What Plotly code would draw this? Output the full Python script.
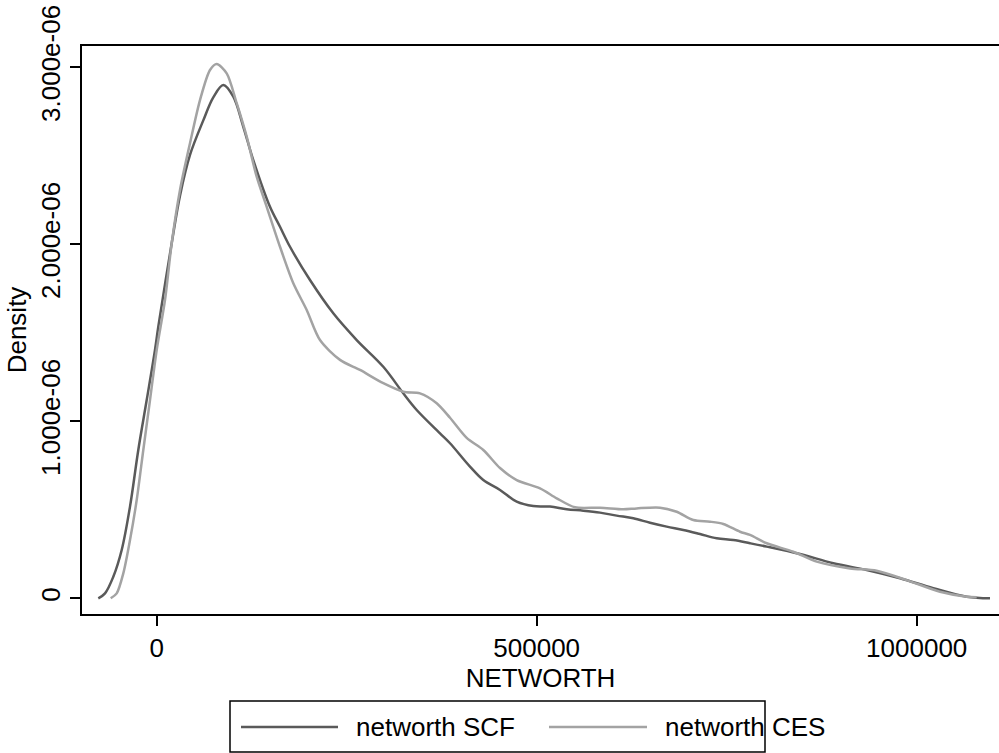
import plotly.graph_objects as go

# ---- data (density in units of 1e-6) ----
scf_x = [-76840, -68030, -57100, -46050, -35130, -24210, -13160, -2240, 2100, 19740,
         30660, 43820, 61320, 74470, 87630, 100790, 113950, 127110, 149080, 162240,
         175390, 201710, 232370, 263160, 298160, 324470, 342110, 372770, 385920, 412240,
         429740, 451720, 473680, 495530, 517500, 539470, 561320, 583290, 605270, 627110,
         649080, 671050, 692900, 714870, 736850, 758690, 780660, 802630, 846460, 890270,
         934220, 978040, 1021850, 1065790, 1096450]
scf_y = [0.000, 0.028, 0.122, 0.273, 0.518, 0.838, 1.120, 1.403, 1.534, 2.006,
         2.275, 2.505, 2.700, 2.830, 2.900, 2.834, 2.664, 2.476, 2.212, 2.099,
         1.986, 1.798, 1.610, 1.459, 1.308, 1.158, 1.064, 0.932, 0.876, 0.744,
         0.668, 0.612, 0.546, 0.521, 0.518, 0.503, 0.495, 0.484, 0.467, 0.452,
         0.427, 0.405, 0.386, 0.363, 0.339, 0.329, 0.311, 0.292, 0.250, 0.198,
         0.160, 0.113, 0.057, 0.009, 0.000]

ces_x = [-60530, -52630, -43950, -35130, -26320, -17630, -8820, 0, 10920, 19740,
         30660, 43820, 56970, 70130, 78950, 92110, 105260, 118420, 131580, 144740,
         162240, 179740, 197370, 214870, 241180, 267500, 298160, 324470, 346450, 368420,
         385920, 407900, 429740, 451720, 473680, 504340, 526320, 550400, 583290, 613950,
         631580, 662240, 684210, 706050, 728030, 745530, 767500, 780660, 802630, 837630,
         868420, 912240, 947370, 986840, 1030660, 1065790, 1078950]
ces_y = [0.000, 0.028, 0.141, 0.329, 0.555, 0.838, 1.120, 1.403, 1.685, 2.006,
         2.307, 2.571, 2.815, 2.985, 3.019, 2.966, 2.797, 2.608, 2.382, 2.212,
         1.986, 1.780, 1.629, 1.459, 1.347, 1.290, 1.215, 1.167, 1.158, 1.102,
         1.020, 0.906, 0.838, 0.736, 0.668, 0.621, 0.565, 0.514, 0.512, 0.503,
         0.508, 0.512, 0.489, 0.442, 0.433, 0.420, 0.376, 0.358, 0.311, 0.263,
         0.207, 0.169, 0.156, 0.103, 0.037, 0.009, 0.006]

x_ticks = [0, 500000, 1000000]
x_tick_labels = ["0", "500000", "1000000"]
y_ticks = [0, 1e-6, 2e-6, 3e-6]
y_tick_labels = ["0", "1.000e-06", "2.000e-06", "3.000e-06"]
series_names = ["networth SCF", "networth CES"]

DARK = "#5a5a5a"
LIGHT = "#a3a3a3"
FONT = "Liberation Sans, Arial, sans-serif"
FS = 26

fig = go.Figure()
fig.add_trace(go.Scatter(x=scf_x, y=[v * 1e-6 for v in scf_y], mode="lines",
                         line=dict(color=DARK, width=2.5, shape="spline", smoothing=1.0),
                         name=series_names[0], showlegend=False))
fig.add_trace(go.Scatter(x=ces_x, y=[v * 1e-6 for v in ces_y], mode="lines",
                         line=dict(color=LIGHT, width=2.5, shape="spline", smoothing=0.8),
                         name=series_names[1], showlegend=False))

W, H = 999, 753
L, R, T, B = 82, 0, 46, 139
pw, ph = W - L - R, H - T - B

def px(x):
    return (x - L) / pw

def py(y):
    return (H - B - y) / ph

fig.update_layout(
    width=W, height=H,
    margin=dict(l=L, r=R, t=T, b=B),
    paper_bgcolor="white", plot_bgcolor="white",
    font=dict(family=FONT, size=FS, color="black"),
    xaxis=dict(range=[-98290, 1108290], tickvals=x_ticks, ticktext=x_tick_labels,
               showgrid=False, zeroline=False, showline=True, linecolor="black",
               linewidth=1.6, mirror=True, ticks="outside", ticklen=10, tickwidth=1.5,
               tickcolor="black", tickfont=dict(size=FS),
               title=dict(text="NETWORTH", font=dict(size=FS), standoff=0)),
    yaxis=dict(range=[-0.0887e-6, 3.1203e-6], tickvals=y_ticks, ticktext=y_tick_labels,
               showgrid=False, zeroline=False, showline=True, linecolor="black",
               linewidth=1.6, ticks="outside", ticklen=10, tickwidth=1.5,
               tickcolor="black", tickangle=-90, tickfont=dict(size=FS),
               title=dict(text="Density", font=dict(size=FS), standoff=2)),
)

# custom legend box (Stata style)
shapes = [
    dict(type="rect", xref="paper", yref="paper", x0=px(230), x1=px(765), y0=py(752), y1=py(701),
         line=dict(color="black", width=1.5), fillcolor="white"),
    dict(type="line", xref="paper", yref="paper", x0=px(241), x1=px(338), y0=py(727), y1=py(727),
         line=dict(color=DARK, width=2.5)),
    dict(type="line", xref="paper", yref="paper", x0=px(549), x1=px(647), y0=py(727), y1=py(727),
         line=dict(color=LIGHT, width=2.5)),
]
annotations = [
    dict(xref="paper", yref="paper", x=px(354), y=py(727), text=series_names[0], showarrow=False,
         xanchor="left", yanchor="middle", font=dict(size=FS)),
    dict(xref="paper", yref="paper", x=px(663), y=py(727), text=series_names[1], showarrow=False,
         xanchor="left", yanchor="middle", font=dict(size=FS)),
]
fig.update_layout(shapes=shapes, annotations=annotations)

fig.write_html("out.html", config={"displayModeBar": False},
               post_script="document.body.style.margin='0';document.body.style.overflow='hidden';")
